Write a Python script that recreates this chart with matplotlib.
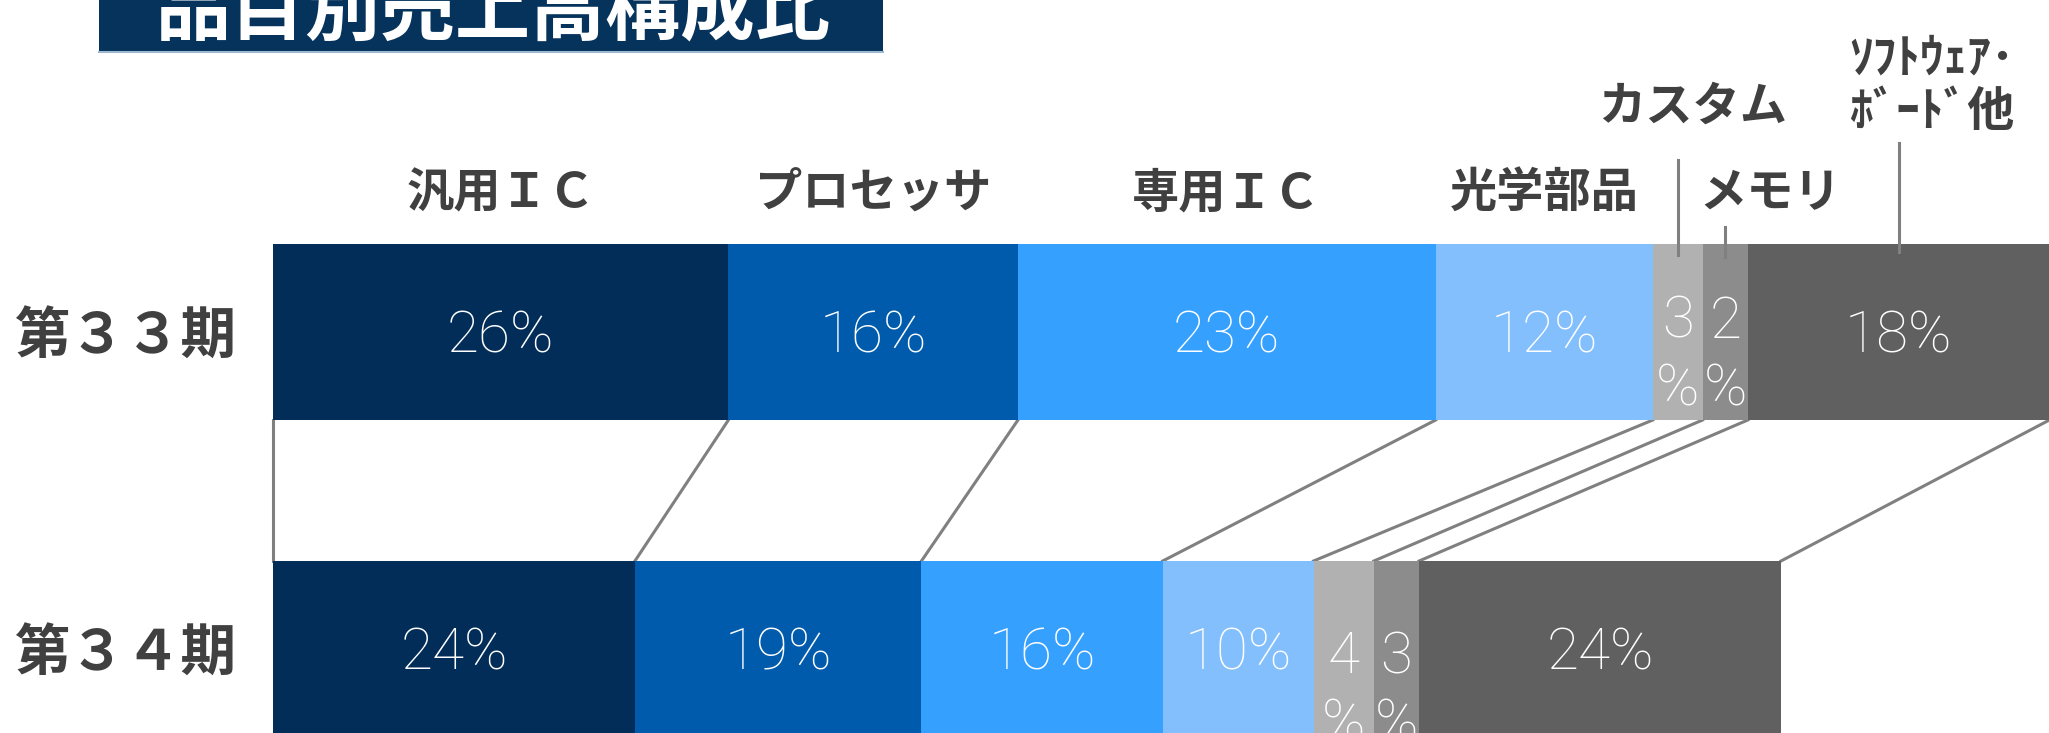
import matplotlib.pyplot as plt
import numpy as np
from matplotlib.patches import Rectangle

title = '品目別売上高構成比'
periods = ['第３３期', '第３４期']
categories = ['汎用ＩＣ', 'プロセッサ', '専用ＩＣ', '光学部品', 'カスタム', 'メモリ',
              'ｿﾌﾄｳｪｱ･\nﾎﾞｰﾄﾞ他']
# labelled shares (%)
share_33 = [26, 16, 23, 12, 3, 2, 18]
share_34 = [24, 19, 16, 10, 4, 3, 24]
# bar lengths (34th period total = 100)
sales_33 = [30.2, 19.2, 27.7, 14.4, 3.3, 3.0, 20.0]
sales_34 = [24.0, 19.0, 16.0, 10.0, 4.0, 3.0, 24.0]

colors = ['#022d58', '#005bac', '#36a0ff', '#82bffc', '#b1b1b1', '#8c8c8c', '#606060']
grey_line = '#808080'
text_grey = '#404040'

jp_font = ['Noto Sans CJK JP', 'DejaVu Sans']
num_font = ['Roboto', 'DejaVu Sans']

# layout (pixels)
W, H = 2049, 733
X0 = 273       # left edge of bars
PX = 15.08     # pixels per unit of sales
bar_y = [332, 649]
bar_h = 176


def px(x):
    return (x - X0) / PX


fig = plt.figure(figsize=(W / 100, H / 100), dpi=100)
ax = fig.add_axes([0, 0, 1, 1])
ax.set_xlim(px(0), px(W))
ax.set_ylim(H, 0)
ax.axis('off')

# title box
ax.add_patch(Rectangle((px(99), -10), 784 / PX, 62, facecolor='#06335c',
                       edgecolor='none', zorder=1))
ax.plot([px(99), px(883)], [52, 52], color='#9db8cf', lw=1.5, zorder=2)
ax.text(px(493), 34, title, color='white', fontsize=54, fontweight='bold',
        family=jp_font, ha='center', va='baseline', zorder=3)

# bars
sales = [sales_33, sales_34]
shares = [share_33, share_34]
small_top = [51, 69]  # offset of narrow two-line labels below bar top
edges = []
for i, vals in enumerate(sales):
    e = np.concatenate([[0], np.cumsum(vals)])
    edges.append(e)
    ax.barh(bar_y[i], vals, left=e[:-1], height=bar_h, color=colors,
            linewidth=0, zorder=2)
    ax.text(px(125), bar_y[i] + 6, periods[i], fontsize=40, fontweight='bold',
            color=text_grey, family=jp_font, ha='center', va='center')
    for j, s in enumerate(shares[i]):
        cx = (e[j] + e[j + 1]) / 2
        if s >= 10:
            ax.text(cx, bar_y[i] + 5, f'{s}%', fontsize=42, color='white',
                    family=num_font, fontweight='light', ha='center',
                    va='center', zorder=4)
        else:
            ax.text(cx, bar_y[i] - bar_h / 2 + small_top[i], f'{s}\n%',
                    fontsize=42, color='white', family=num_font,
                    fontweight='light', ha='center', va='top',
                    linespacing=1.3, zorder=4)

# connectors between the two bars
for a, b in zip(edges[0], edges[1]):
    ax.plot([a, b], [bar_y[0] + bar_h / 2, bar_y[1] - bar_h / 2],
            color=grey_line, lw=2.2, zorder=1)

# category labels above the first bar
centers = (edges[0][:-1] + edges[0][1:]) / 2
label_dx = [0, 0, 0, 0, 15, 45, 33]
label_y = [193, 193, 193, 193, 107, 193, 85]
leaders = {4: (160, 255), 5: (227, 257), 6: (143, 252)}
for j, name in enumerate(categories):
    ax.text(centers[j] + label_dx[j] / PX, label_y[j], name, fontsize=34,
            fontweight='bold', color=text_grey, family=jp_font,
            ha='center', va='center', linespacing=1.15)
    if j in leaders:
        y1, y2 = leaders[j]
        ax.plot([centers[j], centers[j]], [y1, y2], color=grey_line,
                lw=2.2, zorder=3)

fig.savefig('out.png', dpi=100)
